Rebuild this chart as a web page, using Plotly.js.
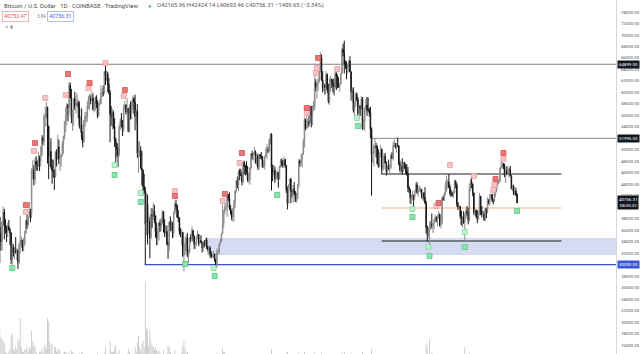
<!DOCTYPE html>
<html>
<head>
<meta charset="utf-8">
<script src="https://cdn.plot.ly/plotly-3.0.1.min.js"></script>
<style>
  html, body { margin: 0; padding: 0; background: #ffffff; }
  #chart { width: 640px; height: 354px; }
</style>
</head>
<body>
<div id="chart"></div>
<script>
// ---------------- DATA (BTC/USD daily, Coinbase) ----------------
const firstDay = '2021-01-08';
const firstOpen = 39400;

const closes = [
  /* 2021-01 (8..31) */ 40600, 40200, 38300, 35550, 33950, 37400, 39150, 36800, 36050, 35800, 36650, 36000, 35500, 30850, 33000, 32100, 32300, 32250, 32500, 30400, 33400, 34300, 34300, 33100,
  /* 2021-02 */ 33550, 35500, 37700, 36950, 38300, 39200, 38850, 46450, 46500, 44850, 48000, 47400, 47200, 48600, 47950, 49150, 52100, 51550, 55900, 55900, 57400, 54100, 48900, 49700, 47100, 46300, 46200, 45200,
  /* 2021-03 */ 49600, 48400, 50500, 48400, 48800, 48900, 51000, 52400, 54900, 56000, 57800, 57300, 61200, 59000, 55600, 56900, 58900, 57650, 58100, 58100, 57400, 54100, 54400, 52300, 51300, 55100, 55800, 55800, 57600, 58800, 58800,
  /* 2021-04 */ 58700, 59000, 57100, 58200, 59100, 57950, 55950, 58050, 58100, 59800, 59950, 59900, 63600, 62950, 63200, 61400, 60000, 56200, 55700, 56500, 54000, 51700, 51100, 50100, 49100, 54000, 55000, 54900, 53600, 57700,
  /* 2021-05 */ 57800, 56600, 57200, 53200, 57500, 56400, 57400, 58900, 58300, 55800, 56700, 49400, 49700, 49900, 46800, 46400, 43600, 42900, 37000, 40600, 37300, 37500, 34700, 38700, 38400, 39300, 38500, 35700, 34600, 35700, 37300,
  /* 2021-06 */ 36700, 37600, 39200, 36900, 35500, 35800, 33600, 33400, 37400, 36700, 37300, 35500, 39000, 40500, 40200, 38300, 38100, 35800, 35500, 35600, 31600, 32500, 33700, 34600, 31600, 32200, 34700, 34500, 35900, 35000,
  /* 2021-07 */ 33500, 33800, 34700, 35300, 33700, 34200, 33900, 32900, 33800, 33500, 34300, 33100, 32700, 32800, 31900, 31400, 31500, 31800, 30800, 29800, 32100, 32300, 33600, 34300, 35400, 37300, 39400, 40000, 40000, 42200, 41500,
  /* 2021-08 */ 39900, 39200, 38200, 39700, 40900, 42800, 44600, 43800, 46300, 45600, 45600, 44400, 47800, 47100, 47000, 45900, 44700, 44800, 46800, 49300, 48900, 49300, 49600, 47700, 48900, 47000, 49100, 48900, 48800, 47000, 47200,
  /* 2021-09 */ 48800, 49300, 50000, 49900, 51800, 52700, 46900, 46100, 46400, 44900, 45200, 46100, 44900, 47100, 48100, 47800, 47300, 48300, 47300, 43000, 40700, 43600, 44900, 42800, 42700, 43200, 42200, 41000, 41500, 43800,
  /* 2021-10 */ 48100, 47700, 48200, 49200, 51500, 55300, 53800, 53900, 54900, 54700, 57500, 56000, 57400, 57400, 61700, 60900, 61500, 62000, 64300, 66000, 62200, 60700, 61300, 60900, 63100, 60400, 58500, 60600, 62300, 61900, 61300,
  /* 2021-11 */ 61000, 63300, 62900, 61400, 61000, 61500, 63300, 67500, 66900, 64900, 64800, 64100, 64400, 65500, 63600, 60100, 60300, 56900, 58100, 59700, 58700, 56300, 57600, 57200, 58900, 53600, 54800, 57300, 57800, 57000,
  /* 2021-12 */ 56900, 56500, 53600, 49200, 49400, 50600, 50600, 50500, 47600, 47100, 49400, 50100, 46700, 48400, 48900, 47700, 46200, 46900, 46700, 46900, 49000, 48600, 50800, 50800, 50400, 50800, 50700, 47500, 46500, 47100, 46200,
  /* 2022-01 */ 47700, 47300, 46400, 45800, 43400, 43100, 41600, 41700, 41900, 41800, 42700, 43900, 42600, 43100, 43100, 43100, 42200, 42400, 41700, 40700, 36500, 35100, 36300, 36700, 37000, 36800, 37200, 37700, 38200, 37900, 38500,
  /* 2022-02 */ 38700, 36900, 37300, 41600, 41400, 42400, 43800, 44000, 44400, 43500, 42400, 42200, 42100, 42600, 44600, 43900, 40600, 40000, 40100, 38400, 37000, 38300, 37300, 38300, 39200, 39100, 37700, 43200,
  /* 2022-03 */ 44400, 44000, 42500, 39100, 39400, 38400, 37900, 38700, 41900, 39400, 38700, 38800, 37800, 39700, 39300, 41100, 40900, 41800, 42200, 41300, 41000, 42400, 42900, 44000, 44300, 44500, 46800, 47100, 47500, 47100, 45500,
  /* 2022-04 (1..11) */ 46300, 45800, 46400, 46600, 45500, 43200, 43500, 42300, 42800, 42165.96, 40756.31
];

const highs = [
  /* 2021-01 */ 41900, 41300, 41400, 38300, 36600, 37600, 40100, 39700, 37900, 36800, 37300, 37800, 36400, 35600, 33800, 33500, 33000, 34800, 32900, 32600, 33800, 38500, 34900, 34300,
  /* 2021-02 */ 34700, 35900, 37700, 38700, 38300, 40900, 39700, 46800, 48200, 47300, 48600, 48900, 48100, 49700, 49000, 50600, 52600, 52500, 56300, 57500, 58350, 57500, 54200, 51300, 52000, 48300, 48300, 46600,
  /* 2021-03 */ 49800, 50100, 52600, 51800, 49400, 49200, 51500, 52400, 54900, 57400, 58100, 58000, 61800, 61700, 60600, 56900, 58950, 60100, 59400, 59900, 58600, 58400, 55800, 57200, 53200, 55100, 56600, 56600, 58400, 59400, 59800,
  /* 2021-04 */ 59500, 60200, 59800, 58500, 59300, 59500, 58600, 58200, 58800, 61200, 60700, 61200, 63800, 64899, 63800, 63600, 62500, 60400, 57600, 57100, 56800, 55500, 52100, 51200, 50500, 54400, 55500, 56400, 55200, 57900,
  /* 2021-05 */ 58500, 57900, 58900, 57200, 57900, 58400, 58600, 59500, 59200, 59600, 57000, 58000, 51400, 51500, 50600, 49800, 46600, 45800, 43500, 42500, 42200, 38800, 38300, 39900, 39800, 40800, 40400, 38200, 37300, 36400, 37500,
  /* 2021-06 */ 37900, 38200, 39500, 39300, 37900, 36800, 36800, 34100, 37500, 38400, 37700, 37400, 39300, 41000, 41300, 40500, 39500, 38200, 36400, 36100, 35700, 33300, 34800, 35200, 35500, 32700, 34700, 35300, 36600, 36100,
  /* 2021-07 */ 35000, 33900, 35000, 35900, 35300, 35100, 35100, 33900, 34100, 34300, 34600, 34700, 33300, 33100, 33200, 32300, 31900, 32400, 31900, 31000, 32800, 32600, 33600, 34500, 35400, 40500, 39500, 40900, 40600, 42300, 42300,
  /* 2021-08 */ 42600, 40400, 39500, 39900, 41300, 43000, 44700, 45300, 46400, 46700, 46700, 46200, 47900, 48100, 47400, 48000, 47200, 46000, 47000, 49400, 49800, 49500, 50500, 49900, 49200, 49300, 49200, 49300, 49600, 48900, 48200,
  /* 2021-09 */ 49000, 50400, 51000, 50500, 51900, 52800, 52900, 47400, 47400, 47100, 45900, 46400, 46100, 47200, 48400, 48500, 48200, 48800, 48400, 47300, 43600, 44000, 44900, 45100, 42900, 43900, 44400, 42800, 42500, 44100,
  /* 2021-10 */ 48400, 48300, 49200, 49500, 51900, 55700, 55300, 56100, 55400, 56500, 57800, 57600, 57700, 58500, 62900, 62300, 61700, 62600, 64400, 67000, 66600, 63700, 61700, 61500, 63700, 63300, 61500, 62500, 62900, 62300, 62400,
  /* 2021-11 */ 62400, 64300, 63500, 63100, 62600, 61600, 63300, 67800, 68500, 69000, 65600, 65400, 64900, 65500, 66300, 63600, 60800, 60900, 58400, 59800, 60000, 59200, 57900, 57800, 59400, 59200, 55300, 57400, 58900, 59200,
  /* 2021-12 */ 59100, 57300, 57500, 53900, 49700, 50900, 51900, 51200, 50800, 50100, 49500, 50800, 50200, 48700, 49500, 49400, 48000, 47300, 48300, 47500, 49300, 49600, 51400, 51800, 51200, 51200, 52100, 50700, 48100, 47900, 48500,
  /* 2022-01 */ 47900, 47900, 47500, 47500, 47000, 43700, 43100, 42300, 42800, 42200, 43000, 44300, 44400, 43400, 43800, 43500, 43200, 42700, 42600, 43500, 41100, 36800, 36500, 37500, 37600, 38900, 37200, 38000, 38700, 38400, 38700,
  /* 2022-02 */ 39300, 38900, 37400, 41700, 42000, 42600, 44500, 45500, 44800, 45800, 43900, 43000, 42700, 42900, 44800, 44600, 44200, 40900, 40400, 40100, 39400, 38400, 39300, 38900, 39700, 40200, 39900, 44100,
  /* 2022-03 */ 44900, 45400, 44100, 42500, 39700, 39600, 39500, 39400, 42500, 41900, 40200, 39300, 39300, 39900, 39900, 41700, 41400, 42300, 42400, 42300, 41500, 43300, 43000, 44200, 45100, 44800, 46900, 48200, 48100, 47700, 47600,
  /* 2022-04 */ 46700, 47200, 47000, 46900, 47200, 45500, 43900, 43900, 42800, 43400, 42424.14
];

const lows = [
  /* 2021-01 */ 36500, 38700, 35100, 30300, 32500, 32400, 36700, 34400, 35400, 33900, 34800, 35900, 33400, 30100, 28850, 31400, 30900, 31900, 30800, 29250, 30000, 31900, 32900, 32300,
  /* 2021-02 */ 32300, 33400, 35400, 36200, 36600, 38200, 37400, 38100, 45000, 43800, 44100, 46400, 46300, 47000, 46300, 47100, 48900, 50900, 50700, 54000, 55500, 47600, 44900, 47000, 46700, 44100, 45100, 43000,
  /* 2021-03 */ 45200, 47100, 48200, 47500, 46300, 47100, 48900, 49300, 51800, 53100, 54300, 55000, 56100, 59000, 54600, 53300, 54200, 57000, 56300, 57800, 55500, 53700, 53000, 51700, 50400, 51300, 53900, 54700, 54900, 57100, 56900,
  /* 2021-04 */ 57900, 58500, 56800, 56500, 56800, 57300, 55500, 55800, 57700, 57900, 59200, 59300, 59800, 61300, 62000, 60000, 59600, 51300, 54200, 53500, 53700, 50500, 47500, 48700, 47000, 48800, 53400, 53900, 52400, 53100,
  /* 2021-05 */ 57000, 56100, 56500, 53100, 52900, 55300, 55300, 56900, 56200, 53400, 54400, 48600, 46000, 48800, 46600, 43800, 42100, 42300, 30000, 35100, 33500, 35300, 31100, 34400, 36400, 37800, 37200, 34700, 33400, 33400, 34200,
  /* 2021-06 */ 35700, 35900, 37200, 35600, 34800, 35300, 33400, 31000, 32400, 35800, 35900, 34600, 34800, 38700, 39500, 38100, 37400, 35200, 34800, 33300, 31300, 28800, 31700, 32300, 31300, 30200, 32000, 33900, 34300, 34000,
  /* 2021-07 */ 32700, 32700, 33300, 34400, 33200, 33500, 33800, 32100, 32300, 33000, 33300, 32700, 32300, 31600, 31200, 31100, 31200, 31100, 30500, 29300, 29500, 31700, 31900, 33400, 33900, 35300, 36400, 38800, 39300, 38300, 41100,
  /* 2021-08 */ 39500, 38700, 37700, 37500, 37500, 39900, 42500, 43300, 42800, 44700, 45400, 43800, 44200, 45700, 45500, 45700, 44400, 44200, 43900, 46600, 48300, 48100, 49100, 47600, 47300, 46500, 46400, 48400, 48300, 46900, 46800,
  /* 2021-09 */ 46600, 48700, 48400, 49500, 49500, 50900, 42900, 44500, 45600, 44200, 44800, 44800, 43400, 44800, 46800, 47100, 46800, 47100, 46900, 42500, 39600, 40600, 43100, 40700, 41700, 40800, 42100, 40900, 40800, 41400,
  /* 2021-10 */ 43300, 47100, 47100, 46900, 49100, 50400, 53400, 53700, 53700, 54100, 54500, 53900, 54300, 56800, 56900, 60200, 58900, 60200, 61700, 63500, 62000, 60000, 60200, 59600, 60700, 59900, 58100, 57800, 60200, 60800, 60000,
  /* 2021-11 */ 59500, 60700, 60400, 60700, 60800, 60100, 61400, 63300, 66300, 63300, 64100, 62300, 63300, 63600, 63500, 58600, 58400, 56500, 55700, 57500, 58500, 55700, 55400, 55900, 57000, 53500, 53600, 53300, 56700, 55900,
  /* 2021-12 */ 56500, 55800, 52000, 42000, 47700, 47100, 50100, 48700, 47400, 46900, 46900, 48700, 45700, 46300, 46600, 47600, 45500, 45600, 46500, 45600, 46600, 48400, 48100, 50500, 50200, 49500, 50500, 47300, 46100, 45900, 45700,
  /* 2022-01 */ 46200, 46700, 45700, 45500, 42600, 42500, 40600, 40500, 41200, 39700, 41300, 42500, 42300, 41800, 42600, 42600, 41500, 41300, 41100, 40600, 35500, 34000, 34600, 32900, 36000, 36300, 35500, 36200, 37400, 37400, 36700,
  /* 2022-02 */ 38000, 36600, 36300, 37000, 41100, 41100, 42100, 42700, 43200, 43300, 42000, 41800, 41900, 41600, 42400, 43300, 40100, 39500, 39700, 38000, 36800, 36400, 37100, 34300, 38000, 38600, 37000, 37500,
  /* 2022-03 */ 42800, 43300, 41900, 38600, 38600, 38100, 37200, 37900, 38600, 38600, 38200, 38700, 37600, 37600, 38100, 38900, 40500, 40200, 41700, 40900, 40500, 40900, 41800, 42600, 43600, 44100, 44400, 46700, 46900, 46600, 45200,
  /* 2022-04 */ 44200, 45600, 45500, 45100, 45400, 43100, 42800, 42100, 42100, 41900, 40693.46
];

// volume, thousands of BTC
const volumes = [
  /* 2021-01 */ 30, 28, 40, 55, 40, 38, 35, 32, 22, 20, 20, 22, 25, 42, 45, 25, 22, 28, 25, 38, 35, 64, 28, 22,
  /* 2021-02 */ 22, 25, 25, 28, 22, 28, 25, 48, 35, 28, 30, 22, 18, 18, 22, 22, 25, 20, 28, 30, 25, 64, 60, 35, 30, 32, 18, 28,
  /* 2021-03 */ 28, 22, 25, 25, 24, 15, 15, 20, 22, 22, 20, 20, 22, 18, 24, 22, 20, 18, 16, 12, 15, 20, 18, 22, 20, 18, 12, 12, 16, 15, 16,
  /* 2021-04 */ 15, 12, 12, 10, 14, 14, 20, 16, 12, 16, 10, 14, 20, 28, 16, 18, 16, 35, 22, 22, 22, 28, 30, 18, 20, 24, 18, 16, 16, 18,
  /* 2021-05 */ 12, 14, 16, 26, 22, 18, 18, 14, 18, 28, 22, 34, 42, 28, 24, 32, 36, 28, 110, 52, 48, 30, 50, 36, 30, 28, 24, 28, 24, 22, 24,
  /* 2021-06 */ 20, 18, 18, 24, 16, 12, 20, 30, 28, 22, 16, 16, 18, 24, 18, 18, 16, 18, 14, 20, 30, 35, 26, 20, 22, 16, 16, 16, 16, 16,
  /* 2021-07 */ 14, 10, 8, 8, 12, 12, 10, 14, 12, 8, 8, 10, 10, 12, 12, 12, 6, 8, 12, 18, 20, 12, 10, 8, 10, 26, 22, 22, 14, 18, 12,
  /* 2021-08 */ 14, 12, 14, 16, 14, 16, 14, 12, 16, 12, 10, 12, 14, 10, 10, 12, 12, 10, 12, 14, 8, 8, 12, 14, 10, 12, 12, 6, 6, 10, 12,
  /* 2021-09 */ 12, 12, 12, 8, 8, 10, 25, 18, 12, 12, 8, 8, 14, 12, 12, 10, 10, 8, 6, 20, 22, 16, 10, 14, 8, 8, 10, 10, 10, 14,
  /* 2021-10 */ 20, 8, 8, 12, 14, 22, 16, 12, 8, 10, 14, 16, 14, 12, 20, 12, 10, 12, 16, 18, 20, 14, 8, 8, 12, 12, 16, 16, 10, 8, 10,
  /* 2021-11 */ 12, 14, 14, 12, 10, 6, 8, 20, 16, 22, 10, 12, 8, 8, 10, 20, 14, 18, 14, 8, 6, 12, 10, 8, 8, 22, 10, 10, 12, 14,
  /* 2021-12 */ 12, 10, 18, 26, 12, 14, 10, 10, 12, 12, 8, 8, 14, 12, 14, 10, 12, 8, 6, 10, 10, 8, 10, 6, 4, 6, 8, 12, 12, 10, 10,
  /* 2022-01 */ 6, 6, 8, 10, 14, 10, 14, 10, 6, 12, 10, 10, 10, 8, 4, 4, 8, 8, 8, 12, 32, 28, 14, 38, 16, 20, 14, 14, 8, 6, 10,
  /* 2022-02 */ 10, 10, 10, 16, 6, 6, 14, 14, 10, 16, 12, 6, 4, 8, 10, 8, 14, 10, 4, 8, 14, 12, 10, 28, 12, 6, 8, 20,
  /* 2022-03 */ 14, 12, 10, 14, 4, 4, 12, 10, 16, 10, 8, 4, 4, 10, 8, 12, 8, 10, 4, 6, 8, 10, 8, 8, 10, 4, 10, 18, 12, 10, 12,
  /* 2022-04 */ 8, 8, 4, 8, 10, 14, 8, 10, 4, 6, 8
];

// price scale ticks (30000, 40000 and 52000 sit under the marked price boxes)
const priceTicks = [16000, 18000, 20000, 22000, 24000, 26000, 28000, 32000, 34000, 36000, 38000, 42000, 44000, 46000, 48000, 50000, 54000, 56000, 58000, 60000, 62000, 64000, 66000, 68000, 70000, 72000, 74000, 76000];

// sequential count markers (dates, price)
const sellStrongDates = ['2021-02-03', '2021-02-11', '2021-03-12', '2021-03-31', '2021-05-01', '2021-06-14', '2021-07-28', '2021-08-12', '2021-10-08', '2021-10-18', '2022-02-01', '2022-03-23', '2022-03-30'];
const sellStrongPrices = [40380, 51180, 63200, 61630, 60410, 41950, 42300, 49440, 57280, 65990, 40730, 44910, 49440];
const sellLightDates = ['2021-02-03', '2021-02-10', '2021-02-20', '2021-03-10', '2021-03-30', '2021-04-14', '2021-04-30', '2021-06-14', '2021-07-26', '2021-08-10', '2021-10-08', '2021-10-17', '2021-10-16', '2021-11-04', '2022-02-11', '2022-01-30', '2022-03-04', '2022-03-22', '2022-03-21', '2022-03-30'];
const sellLightPrices = [39160, 49790, 59020, 59540, 60760, 65120, 59370, 42820, 41080, 47700, 56410, 64245, 63375, 64070, 47350, 40210, 45430, 43870, 43000, 48400];
const buyStrongDates = ['2021-01-22', '2021-04-22', '2021-05-15', '2021-06-23', '2021-07-19', '2021-09-12', '2021-11-22', '2022-01-09', '2022-01-24', '2022-02-24', '2022-04-11'];
const buyStrongPrices = [29410, 45610, 40910, 30110, 28015, 42120, 54140, 38290, 31500, 33070, 39340];
const buyLightDates = ['2021-04-22', '2021-05-15', '2021-07-18', '2021-11-21', '2022-01-09', '2022-01-23', '2022-02-24'];
const buyLightPrices = [47350, 42470, 29410, 55540, 39690, 33070, 35680];

// drawn levels
const athLevel = 64899;
const resistanceLevel = 51995;
const rangeHigh = 45780;
const rangeMid = 39860;
const rangeLow = 34110;
const supportLevel = 30000;
const zoneLow = 31670;
const zoneHigh = 34630;

// ---------------- BUILD ----------------
const n = closes.length;
if (highs.length !== n || lows.length !== n || volumes.length !== n) {
  throw new Error('length mismatch ' + [n, highs.length, lows.length, volumes.length].join(','));
}
const d0 = new Date(firstDay + 'T00:00:00Z');
const dates = closes.map((_, i) => new Date(d0.getTime() + i * 86400000).toISOString().slice(0, 10));
if (dates[n - 1] !== '2022-04-11') throw new Error('last date ' + dates[n - 1]);
const opens = closes.map((c, i) => i === 0 ? firstOpen : closes[i - 1]);
const hi = highs.map((h, i) => Math.max(h, opens[i], closes[i]));
const lo = lows.map((l, i) => Math.min(l, opens[i], closes[i]));

const xStart = '2021-01-11 04:48';
const xEnd = '2022-07-07';
const FONT = 'Roboto, "Liberation Sans", Arial, sans-serif';

const traces = [
  {
    type: 'bar', x: dates, y: volumes, yaxis: 'y2',
    marker: { color: '#c8c8c8', line: { width: 0 } }, hoverinfo: 'skip'
  },
  {
    type: 'candlestick', x: dates, open: opens, high: hi, low: lo, close: closes,
    increasing: { line: { color: '#8c8c8c', width: 1 }, fillcolor: '#8c8c8c' },
    decreasing: { line: { color: '#161616', width: 1 }, fillcolor: '#161616' },
    whiskerwidth: 0, hoverinfo: 'skip'
  },
  {
    type: 'scatter', mode: 'markers', x: sellLightDates, y: sellLightPrices,
    marker: { symbol: 'square', size: 5, color: '#f6c4c4', line: { color: '#ee9f9f', width: 0.8 } }
  },
  {
    type: 'scatter', mode: 'markers', x: sellStrongDates, y: sellStrongPrices,
    marker: { symbol: 'square', size: 5, color: '#e87878', line: { color: '#d94f4f', width: 0.8 } }
  },
  {
    type: 'scatter', mode: 'markers', x: buyLightDates, y: buyLightPrices,
    marker: { symbol: 'square', size: 5, color: '#bff0d0', line: { color: '#7fdca2', width: 0.8 } }
  },
  {
    type: 'scatter', mode: 'markers', x: buyStrongDates, y: buyStrongPrices,
    marker: { symbol: 'square', size: 5, color: '#8fe3ae', line: { color: '#4ccb7c', width: 0.8 } }
  }
];

const shapes = [
  { type: 'rect', xref: 'x', yref: 'y', x0: '2021-07-12', x1: xEnd, y0: zoneLow, y1: zoneHigh,
    fillcolor: '#d4dbf2', line: { width: 0 }, layer: 'below' },
  { type: 'line', xref: 'paper', yref: 'y', x0: 0, x1: 1, y0: athLevel, y1: athLevel,
    line: { color: '#808080', width: 1 }, layer: 'below' },
  { type: 'line', xref: 'x', yref: 'y', x0: '2021-12-04', x1: xEnd, y0: resistanceLevel, y1: resistanceLevel,
    line: { color: '#8a8a8a', width: 1 }, layer: 'below' },
  { type: 'line', xref: 'x', yref: 'y', x0: '2021-12-13', x1: '2022-05-20', y0: rangeHigh, y1: rangeHigh,
    line: { color: '#1e1e1e', width: 1 }, layer: 'below' },
  { type: 'line', xref: 'x', yref: 'y', x0: '2021-12-13', x1: '2022-05-20', y0: rangeMid, y1: rangeMid,
    line: { color: '#f3b27c', width: 1.2 }, layer: 'below' },
  { type: 'line', xref: 'x', yref: 'y', x0: '2021-12-13', x1: '2022-05-20', y0: rangeLow, y1: rangeLow,
    line: { color: '#1e1e1e', width: 1 }, layer: 'below' },
  { type: 'line', xref: 'x', yref: 'y', x0: '2021-05-18 12:00', x1: xEnd, y0: supportLevel, y1: supportLevel,
    line: { color: '#3c50d6', width: 1.3 }, layer: 'below' }
];

function axisBox(val, text, bg) {
  return { xref: 'paper', yref: 'y', x: 1, y: val, xanchor: 'left', yanchor: 'middle', xshift: 1,
    text: text, showarrow: false, bgcolor: bg, borderpad: 1, align: 'center',
    font: { family: FONT, size: 4.4, color: '#ffffff' } };
}
function hdr(xpx, ypx, text, color, size, extra) {
  return Object.assign({ xref: 'paper', yref: 'paper', x: xpx / 616, y: 1 - ypx / 354,
    xanchor: 'left', yanchor: 'middle', text: text, showarrow: false,
    font: { family: FONT, size: size, color: color } }, extra || {});
}

const annotations = [
  axisBox(athLevel, athLevel.toFixed(2), '#131722'),
  axisBox(resistanceLevel, resistanceLevel.toFixed(2), '#131722'),
  axisBox(closes[n - 1], closes[n - 1].toFixed(2) + '<br>08:05:32', '#131722'),
  axisBox(supportLevel, supportLevel.toFixed(2), '#3a55d8'),
  hdr(2, 6, 'Bitcoin / U.S. Dollar · 1D · COINBASE · TradingView', '#4a4a4a', 6),
  hdr(146, 6, '●', '#2bbd6e', 5.5),
  hdr(155, 6, 'O42165.96 H42424.14 L40693.46 C40756.31 −1409.65 (−3.34%)', '#555555', 5.8),
  hdr(2, 16, '40752.47', '#e05050', 5.3, { bordercolor: '#f0a0a0', borderwidth: 0.8, borderpad: 1.5 }),
  hdr(35, 16, '3.84', '#888888', 4.6),
  hdr(47, 16, '40756.31', '#3d63dd', 5.3, { bordercolor: '#9cb0ee', borderwidth: 0.8, borderpad: 1.5 }),
  hdr(3, 27, '˅ 4', '#555555', 5.6)
];

const layout = {
  width: 640, height: 354,
  margin: { l: 0, r: 24, t: 0, b: 0, pad: 0 },
  paper_bgcolor: '#ffffff', plot_bgcolor: '#ffffff',
  showlegend: false, hovermode: false, bargap: 0.25,
  font: { family: FONT },
  xaxis: { type: 'date', range: [xStart, xEnd], visible: false, rangeslider: { visible: false }, fixedrange: true },
  yaxis: {
    side: 'right', range: [14429, 76090], tickvals: priceTicks,
    ticktext: priceTicks.map(v => v.toFixed(2)),
    showgrid: false, zeroline: false, showline: true, linecolor: '#d6d6d6', linewidth: 1,
    ticks: '', ticklabelstandoff: 3,
    tickfont: { family: FONT, size: 4.4, color: '#555555' }, fixedrange: true
  },
  yaxis2: { overlaying: 'y', range: [19.2, 459.5], visible: false, fixedrange: true },
  shapes: shapes,
  annotations: annotations
};

Plotly.newPlot('chart', traces, layout, { staticPlot: true, displayModeBar: false });
</script>
</body>
</html>
